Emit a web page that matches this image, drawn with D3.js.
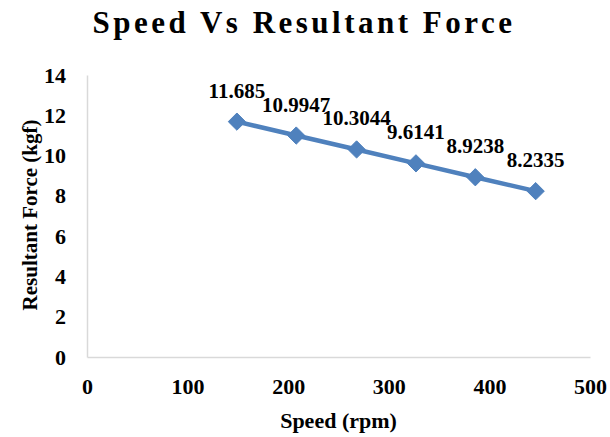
<!DOCTYPE html>
<html lang="en">
<head>
    <meta charset="UTF-8">
    <title>Speed Vs Resultant Force</title>
    <script src="https://d3js.org/d3.v7.min.js"></script>
    <style>
        body { margin: 0; background: #fff; }
        text { font-family: "Liberation Serif", "Times New Roman", serif; font-weight: bold; fill: #000; }
    </style>
</head>
<body>
    <script>
        // Data
        const speeds = [149, 208, 268, 327, 386, 446];
        const forces = [11.685, 10.9947, 10.3044, 9.6141, 8.9238, 8.2335];
        const xTicks = [0, 100, 200, 300, 400, 500];
        const yTicks = [0, 2, 4, 6, 8, 10, 12, 14];
        const data = speeds.map((s, i) => ({ speed: s, force: forces[i] }));

        const W = 610, H = 437;
        const margin = { top: 75, left: 87 };
        const width = 590 - margin.left;
        const height = 357 - margin.top;

        const svg = d3.select("body").append("svg")
            .attr("width", W)
            .attr("height", H);

        const g = svg.append("g")
            .attr("transform", `translate(${margin.left},${margin.top})`);

        const x = d3.scaleLinear().domain([0, 500]).range([0, width]);
        const y = d3.scaleLinear().domain([0, 14]).range([height, 0]);

        // Axes
        const xAxis = g.append("g")
            .attr("transform", `translate(0,${height})`)
            .call(d3.axisBottom(x).tickValues(xTicks).tickSize(0).tickPadding(21));
        xAxis.select(".domain").attr("stroke", "#d9d9d9").attr("stroke-width", 1.5);
        xAxis.selectAll("text").style("font-size", "22px");

        const yAxis = g.append("g")
            .call(d3.axisLeft(y).tickValues(yTicks).tickSize(0).tickPadding(21));
        yAxis.select(".domain").attr("stroke", "#d9d9d9").attr("stroke-width", 1.5);
        yAxis.selectAll("text").style("font-size", "22px");

        // Line
        const line = d3.line()
            .x(d => x(d.speed))
            .y(d => y(d.force));

        g.append("path")
            .datum(data)
            .attr("fill", "none")
            .attr("stroke", "#4f81bd")
            .attr("stroke-width", 4.5)
            .attr("d", line);

        // Markers
        g.selectAll(".pt")
            .data(data)
            .enter()
            .append("path")
            .attr("class", "pt")
            .attr("d", d3.symbol().type(d3.symbolDiamond2).size(190))
            .attr("transform", d => `translate(${x(d.speed)},${y(d.force)})`)
            .attr("fill", "#4f81bd")
            .attr("stroke", "#4f81bd")
            .attr("stroke-width", 1);

        // Data labels
        g.selectAll(".lbl")
            .data(data)
            .enter()
            .append("text")
            .attr("class", "lbl")
            .attr("x", d => x(d.speed))
            .attr("y", d => y(d.force) - 24)
            .attr("text-anchor", "middle")
            .style("font-size", "21px")
            .text(d => d.force);

        // Title
        svg.append("text")
            .attr("x", 304)
            .attr("y", 33)
            .attr("text-anchor", "middle")
            .style("font-size", "31px")
            .style("letter-spacing", "3.5px")
            .text("Speed Vs Resultant Force");

        // Axis titles
        svg.append("text")
            .attr("x", margin.left + width / 2)
            .attr("y", 428)
            .attr("text-anchor", "middle")
            .style("font-size", "22px")
            .text("Speed (rpm)");

        svg.append("text")
            .attr("transform", "rotate(-90)")
            .attr("x", -215)
            .attr("y", 37)
            .attr("text-anchor", "middle")
            .style("font-size", "21px")
            .text("Resultant Force (kgf)");
    </script>
</body>
</html>
